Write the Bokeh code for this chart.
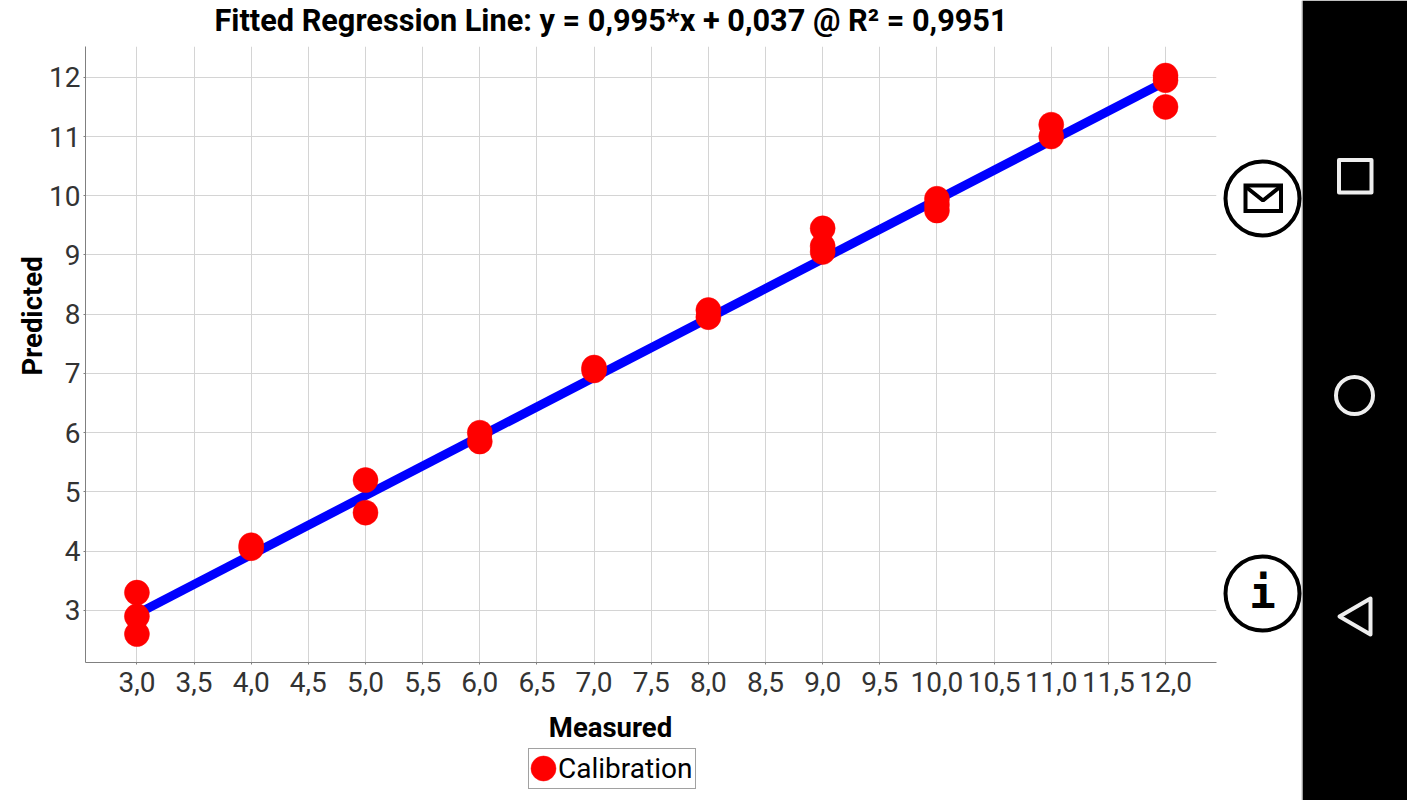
from bokeh.embed import file_html
from bokeh.resources import INLINE
from bokeh.plotting import figure
from bokeh.layouts import row, column
from bokeh.models import Range1d, FixedTicker, Legend, LegendItem, Title
from bokeh.core.properties import value

FONT = "Roboto"
title_text = "Fitted Regression Line: y = 0,995*x + 0,037 @ R² = 0,9951"
x_label = "Measured"
y_label = "Predicted"
series_name = "Calibration"

measured = [3, 3, 3, 4, 4, 5, 5, 6, 6, 7, 7, 8, 8, 9, 9, 9, 10, 10, 10, 11, 11, 12, 12, 12]
predicted = [3.3, 2.9, 2.6, 4.05, 4.1, 5.2, 4.65, 6.0, 5.85, 7.05, 7.1, 7.95, 8.07,
             9.45, 9.15, 9.05, 9.95, 9.85, 9.75, 11.2, 11.0, 12.03, 11.95, 11.5]
fit_x = [3, 12]
fit_y = [2.94, 11.93]

x_ticks = [3, 3.5, 4, 4.5, 5, 5.5, 6, 6.5, 7, 7.5, 8, 8.5, 9, 9.5, 10, 10.5, 11, 11.5, 12]
x_tick_labels = ["3,0", "3,5", "4,0", "4,5", "5,0", "5,5", "6,0", "6,5", "7,0", "7,5", "8,0",
                 "8,5", "9,0", "9,5", "10,0", "10,5", "11,0", "11,5", "12,0"]
y_ticks = [3, 4, 5, 6, 7, 8, 9, 10, 11, 12]

MAIN_W = 1218
SIDE_W = 189
TOTAL_H = 800
TOP_H = 46
BOTTOM_Y = 706


def strip(width, height, xr, yr):
    f = figure(width=width, height=height, output_backend="svg", toolbar_location=None,
               x_range=Range1d(*xr), y_range=Range1d(*yr),
               min_border_left=0, min_border_right=0, min_border_top=0, min_border_bottom=0,
               frame_align=False)
    f.axis.visible = False
    f.grid.visible = False
    f.outline_line_color = None
    return f


# top strip: chart title
t = strip(MAIN_W, TOP_H, (0, MAIN_W), (TOP_H, 0))
t.text([610.5], [20], text=[title_text], text_font=value(FONT), text_font_style="bold",
       text_font_size="30.7px", text_align="center", text_baseline="middle", text_color="black")

p = figure(width=MAIN_W, height=BOTTOM_Y - TOP_H, output_backend="svg", toolbar_location=None,
           x_range=Range1d(2.55, 12.446), y_range=Range1d(2.12, 12.52),
           min_border_left=85, min_border_right=2, min_border_top=0, min_border_bottom=44,
           frame_align=False)
p.background_fill_color = "white"
p.outline_line_color = None

p.xaxis.ticker = FixedTicker(ticks=x_ticks)
p.yaxis.ticker = FixedTicker(ticks=y_ticks)
p.xaxis.major_label_overrides = dict(zip(x_ticks, x_tick_labels))
p.yaxis.major_label_overrides = {tk: str(tk) for tk in y_ticks}
for ax in (p.xaxis, p.yaxis):
    ax.major_label_text_font = FONT
    ax.major_label_text_font_size = "28px"
    ax.major_label_text_color = "#333333"
    ax.axis_line_color = "#808080"
    ax.axis_line_width = 1
    ax.major_tick_line_color = "#808080"
    ax.major_tick_out = 2
    ax.major_tick_in = 0
    ax.minor_tick_line_color = None
p.xaxis.major_label_standoff = 7
p.yaxis.major_label_standoff = 3
p.xgrid.grid_line_color = "#d4d4d4"
p.ygrid.grid_line_color = "#d4d4d4"
p.xgrid.grid_line_width = 1
p.ygrid.grid_line_width = 1

p.line(fit_x, fit_y, line_color="#0000ff", line_width=9)
p.scatter(measured, predicted, size=25, fill_color="#ff0000", line_color="#ff0000", line_width=0.5)

p.add_layout(Title(text=y_label, align="left", offset=287, standoff=-4, text_font=FONT,
                   text_font_size="27.5px", text_font_style="bold", text_color="black"), "left")

# bottom strip: x-axis name and legend, in page pixel coordinates
l = strip(MAIN_W, TOTAL_H - BOTTOM_Y, (0, MAIN_W), (TOTAL_H, BOTTOM_Y))
l.text([610], [727], text=[x_label], text_font=value(FONT), text_font_style="bold",
       text_font_size="27.5px", text_align="center", text_baseline="middle", text_color="black")
pts = l.scatter(measured[:1], predicted[:1], size=25, fill_color="#ff0000", line_color="#ff0000", line_width=0.5)
# full-size legend marker, showing through the legend's transparent background
l.scatter([543], [768], size=25, fill_color="#ff0000", line_color="#ff0000", line_width=0.5)
legend = Legend(items=[LegendItem(label=series_name, renderers=[pts])],
                location=(528, 11), orientation="horizontal",
                label_text_font=FONT, label_text_font_size="28px", label_text_color="black",
                border_line_color="#444444", border_line_width=1, background_fill_alpha=0.0,
                padding=3, margin=0, spacing=0,
                glyph_width=23, glyph_height=30, label_standoff=3, label_height=31)
l.add_layout(legend, "center")

# right-hand side panel: drawn in page pixel coordinates
s = strip(SIDE_W, TOTAL_H, (1218, 1407), (800, 0))
s.quad(left=[1302], right=[1407], top=[0], bottom=[800], fill_color="black", line_color=None)
s.segment([1301.5], [0], [1301.5], [800], line_color="#bbbbbb", line_width=1)

# round buttons
s.circle([1262, 1262], [198, 593], radius=37, fill_color="white", line_color="black", line_width=4)
s.quad(left=[1245], right=[1280.5], top=[185], bottom=[210.5], fill_color=None, line_color="black",
       line_width=4, line_join="miter")
s.line([1245, 1262.5, 1280], [186, 200, 186], line_color="black", line_width=4)
s.text([1262], [592], text=["i"], text_font=value("DejaVu Sans Mono"), text_font_style="bold",
       text_font_size="44px", text_align="center", text_baseline="middle", text_color="black")

# navigation icons
NAV = "#eeeeee"
s.quad(left=[1338.5], right=[1371], top=[159.5], bottom=[192], fill_color=None, line_color=NAV,
       line_width=4, line_join="round")
s.circle([1354], [395], radius=18.5, fill_color=None, line_color=NAV, line_width=4)
s.patch([1339, 1370, 1370], [616, 598, 634], fill_color=None, line_color=NAV, line_width=4, line_join="round")

open("out.html", "w").write(file_html(row(column(t, p, l), s), INLINE))
